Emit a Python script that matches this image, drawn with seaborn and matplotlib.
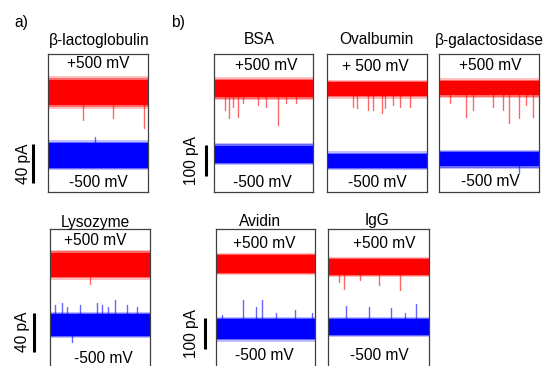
import matplotlib
matplotlib.use("Agg")
import matplotlib.pyplot as plt
import seaborn as sns
import pandas as pd

sns.set_style("white")
plt.rcParams["font.family"] = ["Liberation Sans", "DejaVu Sans"]
plt.rcParams["text.color"] = "black"

# ---------------- data (currents in pA, time normalised 0..1) ----------------
PANELS = ["β-lactoglobulin", "Lysozyme", "BSA", "Ovalbumin", "β-galactosidase", "Avidin", "IgG"]
POS_LABELS = ["+500 mV", "+500 mV", "+500 mV", "+ 500 mV", "+500 mV", "+500 mV", "+500 mV"]
NEG_LABELS = ["-500 mV"] * 7

pos_level = [32.8, 30.8, 105.6, 116.0, 115.0, 105.0, 96.7]
neg_level = [-31.8, -30.8, -105.6, -116.0, -115.0, -105.0, -96.7]
pos_core = [12.8, 12.3, 27.4, 22.6, 22.6, 29.0, 26.0]
pos_fringe = [17.0, 15.4, 37.0, 30.6, 32.0, 35.5, 32.0]
neg_core = [12.8, 11.3, 27.4, 24.0, 22.6, 32.0, 26.0]
neg_fringe = [15.4, 13.3, 35.5, 30.6, 30.0, 40.0, 32.0]
y_lims = [(-69.3, 72.3), (-73.9, 67.7), (-228, 217), (-216, 229), (-220, 225), (-227, 218), (-227, 218)]

pos_spike_t = [
    [0.353, 0.65, 0.96],
    [0.40],
    [0.11, 0.155, 0.195, 0.245, 0.295, 0.44, 0.53, 0.65, 0.73, 0.83],
    [0.26, 0.30, 0.41, 0.46, 0.55, 0.58, 0.66, 0.73, 0.83],
    [0.11, 0.27, 0.34, 0.54, 0.64, 0.70, 0.80, 0.87, 0.94],
    [],
    [0.11, 0.16, 0.32, 0.50, 0.71],
]
pos_spike_peak = [
    [4.6, 6.7, -3.6],
    [11.0],
    [36, 9.5, 47, 12.7, 58, 52, 47, -12, 58, 58],
    [59, 54, 48, 48, 38, 54, 64, 59, 59],
    [66, 22.7, 44, 55, 44, 1.5, 17.6, 60, 22.7],
    [],
    [48, 24, 54, 38, 22],
]
neg_spike_t = [
    [0.47],
    [0.05, 0.12, 0.17, 0.22, 0.30, 0.47, 0.52, 0.58, 0.65, 0.77, 0.87],
    [],
    [],
    [0.80],
    [0.06, 0.276, 0.40, 0.46, 0.61, 0.80, 0.97],
    [0.175, 0.41, 0.62, 0.76, 0.87],
]
neg_spike_peak = [
    [-12.8],
    [-10, -8, -12, -47.9, -10, -8, -10, -12, -5, -10, -12],
    [],
    [],
    [-159],
    [-60, -11, -35, -11, -54, -43, -52],
    [-30, -34, -37, -53, -23],
]

# scale bars: (panel index, label, bottom, top)
SCALE_BARS = [(0, "40 pA", -60, -20), (1, "40 pA", -58, -18),
              (2, "100 pA", -177, -77), (5, "100 pA", -170, -70)]

# ---------------- layout (pixels) ----------------
W, H = 543, 366
BOXES = [(48, 54, 100, 138), (50, 229, 100, 138), (214, 54, 99, 138),
         (327, 54, 100, 138), (439, 54, 100, 138), (216, 229, 99, 138),
         (328, 229, 101, 138)]
TITLE_XY = [(99.7, 41), (95.5, 222), (259.7, 40), (376.7, 40), (489.7, 40), (259.8, 221), (376.5, 221)]
POS_TXT = [(0.50, 0.933), (0.45, 0.92), (0.53, 0.915), (0.48, 0.908), (0.51, 0.915), (0.49, 0.896), (0.56, 0.896)]
NEG_TXT = [(0.50, 0.072), (0.53, 0.063), (0.49, 0.067), (0.50, 0.067), (0.51, 0.075), (0.49, 0.082), (0.51, 0.082)]
BAR_X = {0: (-0.147, -0.25), 1: (-0.16, -0.27), 2: (-0.084, -0.225), 5: (-0.116, -0.25)}

FS = 11.2
FS_V = 11.2
RED, BLUE = "#ff0000", "#0000ff"

fig = plt.figure(figsize=(W / 100, H / 100), dpi=100)
axes = []
for i, name in enumerate(PANELS):
    x0, y0, w, h = BOXES[i]
    ax = fig.add_axes([x0 / W, (H - y0 - h) / H, w / W, h / H])
    axes.append(ax)
    ax.set_xlim(0, 1)
    ax.set_ylim(*y_lims[i])
    ax.set_xticks([])
    ax.set_yticks([])
    for s in ax.spines.values():
        s.set_color("#404040")
        s.set_linewidth(0.9)

    for lvl, core, fr, col in [(pos_level[i], pos_core[i], pos_fringe[i], RED),
                               (neg_level[i], neg_core[i], neg_fringe[i], BLUE)]:
        mid = (core + fr) / 2
        ax.fill_between([0, 1], lvl - fr, lvl + fr, color=col, alpha=0.25, lw=0)
        ax.fill_between([0, 1], lvl - mid, lvl + mid, color=col, alpha=0.45, lw=0)
        ax.fill_between([0, 1], lvl - core, lvl + core, color=col, lw=0)

    rows = []
    for k, (t, p) in enumerate(zip(pos_spike_t[i], pos_spike_peak[i])):
        rows += [("p", k, t, pos_level[i]), ("p", k, t, p)]
    for k, (t, p) in enumerate(zip(neg_spike_t[i], neg_spike_peak[i])):
        rows += [("n", k, t, neg_level[i]), ("n", k, t, p)]
    if rows:
        df = pd.DataFrame(rows, columns=["trace", "uid", "t", "I"])
        df["unit"] = df["trace"] + df["uid"].astype(str)
        sns.lineplot(data=df, x="t", y="I", hue="trace", units="unit", estimator=None,
                     palette={"p": RED, "n": BLUE}, lw=1.0, alpha=0.6, legend=False,
                     ax=ax, sort=False)
        ax.set_xlabel("")
        ax.set_ylabel("")

    ax.text(*POS_TXT[i], POS_LABELS[i], transform=ax.transAxes, ha="center", va="center",
            fontsize=FS_V, color="black")
    ax.text(*NEG_TXT[i], NEG_LABELS[i], transform=ax.transAxes, ha="center", va="center",
            fontsize=FS_V, color="black")
    tx, ty = TITLE_XY[i]
    fig.text(tx / W, 1 - ty / H, name, ha="center", va="center", fontsize=FS, color="black")

for idx, lab, lo, hi in SCALE_BARS:
    ax = axes[idx]
    bx, lx = BAR_X[idx]
    tr = ax.get_yaxis_transform()
    ax.plot([bx, bx], [lo, hi], color="black", lw=2.2, transform=tr, clip_on=False,
            solid_capstyle="butt")
    ax.text(lx, (lo + hi) / 2, lab, transform=tr, rotation=90, ha="center", va="center",
            fontsize=FS_V, color="black")

fig.text(21.7 / W, 1 - 23 / H, "a)", ha="center", va="center", fontsize=FS_V, color="black")
fig.text(178 / W, 1 - 22.5 / H, "b)", ha="center", va="center", fontsize=FS_V, color="black")

fig.savefig("out.png", dpi=100)
